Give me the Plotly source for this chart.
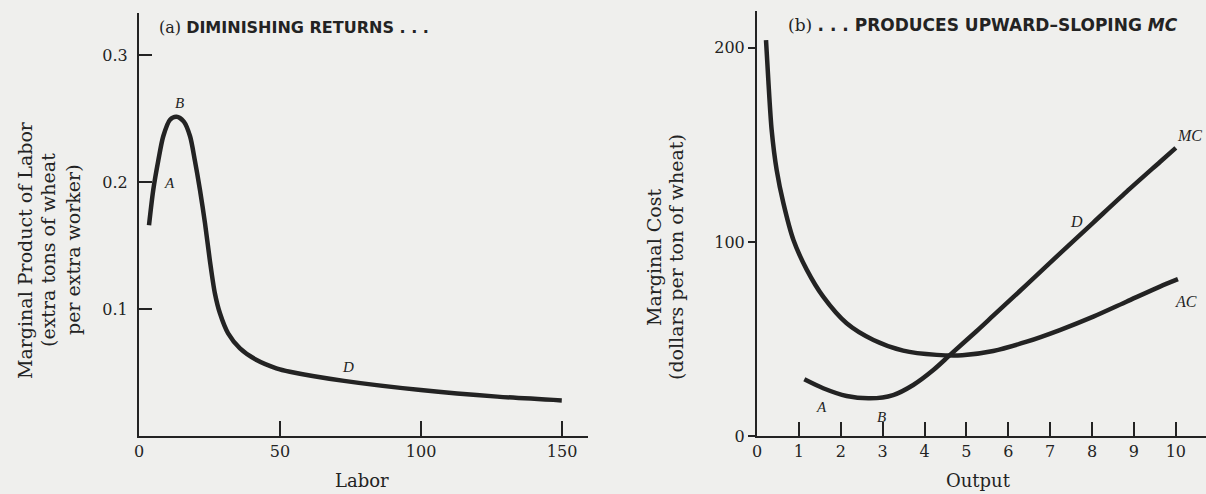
import plotly.graph_objects as go

# ---- Panel (a): marginal product of labor ----
labor_x = [3.55, 5.07, 6.85, 8.6, 11.0, 13.3, 15.9, 18.1, 19.8, 21.6, 23.4, 25.1, 26.9, 28.7, 31.6, 35.8,
           41.7, 48.7, 53.5, 72.7, 99.9, 127.0, 149.9]
mpl_y = [0.166, 0.194, 0.217, 0.236, 0.249, 0.2514, 0.2475, 0.236, 0.217, 0.194, 0.1675, 0.1386, 0.1124,
         0.0966, 0.0808, 0.069, 0.0598, 0.0533, 0.0506, 0.0434, 0.0362, 0.0310, 0.0280]

# ---- Panel (b): marginal cost and average cost ----
mc_x = [1.13, 1.58, 2.14, 2.70, 3.25, 3.73, 4.21, 4.61, 5.24, 5.64, 6.04, 6.44, 7.23, 8.03, 8.82, 9.62, 10.0]
mc_y = [29.2, 24.6, 20.6, 19.4, 21.1, 26.3, 34.0, 41.8, 54.0, 62.0, 70.0, 78.0, 94.0, 110.0, 125.8, 141.2, 148.5]
ac_x = [0.215, 0.27, 0.35, 0.47, 0.63, 0.87, 1.19, 1.58, 2.14, 2.78, 3.49, 4.29, 4.9, 5.64, 6.44, 7.23, 8.03,
        8.82, 9.62, 10.05]
ac_y = [204, 183.5, 157.7, 137, 120, 101, 85.6, 71.8, 58.1, 49.5, 44.0, 41.8, 41.6, 43.8, 48.6, 54.6, 61.5,
        69.2, 77.0, 80.8]

labor_ticks = [0, 50, 100, 150]
mpl_ticks = [0.1, 0.2, 0.3]
output_ticks = [0, 1, 2, 3, 4, 5, 6, 7, 8, 9, 10]
cost_ticks = [0, 100, 200]

INK = "#232323"
BG = "#efefed"
SERIF = "DejaVu Serif"
SANS = "DejaVu Sans"
W, H = 1206, 494

def px(x):
    return x / W

def py(y):
    return (H - y) / H

fig = go.Figure()
curve = dict(color=INK, width=4.5, shape="spline", smoothing=0.8)
fig.add_trace(go.Scatter(x=labor_x, y=mpl_y, mode="lines", line=curve,
                         xaxis="x", yaxis="y", hoverinfo="skip", showlegend=False))
fig.add_trace(go.Scatter(x=mc_x, y=mc_y, mode="lines", line=curve,
                         xaxis="x2", yaxis="y2", hoverinfo="skip", showlegend=False))
fig.add_trace(go.Scatter(x=ac_x, y=ac_y, mode="lines", line=curve,
                         xaxis="x2", yaxis="y2", hoverinfo="skip", showlegend=False))

tickfont = dict(family=SERIF, size=16, color=INK)
axis_common = dict(showgrid=False, zeroline=False, showline=True, linecolor=INK, linewidth=2,
                   tickcolor=INK, tickwidth=2, tickfont=tickfont, fixedrange=True, automargin=False)

fig.update_layout(
    width=W, height=H,
    margin=dict(l=0, r=0, t=0, b=0, pad=0),
    paper_bgcolor=BG, plot_bgcolor=BG,
    showlegend=False,
    xaxis=dict(domain=[px(139), px(588)], range=[0, 159.2], anchor="y",
               tickvals=labor_ticks, ticktext=[str(v) for v in labor_ticks],
               ticks="inside", ticklen=15, **axis_common),
    yaxis=dict(domain=[py(436), py(13)], range=[0, 0.333], anchor="x",
               tickvals=mpl_ticks, ticktext=["0.1", "0.2", "0.3"],
               ticks="inside", ticklen=13, ticklabelstandoff=6, **axis_common),
    xaxis2=dict(domain=[px(757), 1.0], range=[0, 10.72], anchor="y2",
                tickvals=output_ticks, ticktext=[str(v) for v in output_ticks],
                ticks="inside", ticklen=14, **axis_common),
    yaxis2=dict(domain=[py(436), py(11)], range=[0, 219], anchor="x2",
                tickvals=cost_ticks, ticktext=[str(v) for v in cost_ticks],
                ticks="outside", ticklen=7, **axis_common),
)

ann = []

def lab(text, x, y, xref, yref, size=15):
    ann.append(dict(text=f"<i>{text}</i>", x=x, y=y, xref=xref, yref=yref, showarrow=False,
                    xanchor="center", yanchor="middle",
                    font=dict(family="Liberation Serif", size=size, color=INK)))

# point labels panel (a)
lab("B", 14.3, 0.2625, "x", "y")
lab("A", 10.9, 0.199, "x", "y")
lab("D", 74, 0.054, "x", "y")
# point labels panel (b)
lab("MC", 10.33, 155, "x2", "y2", 16)
lab("AC", 10.25, 69.2, "x2", "y2", 16)
lab("D", 7.63, 110.5, "x2", "y2", 16)
lab("A", 1.54, 15.1, "x2", "y2")
lab("B", 2.98, 10, "x2", "y2")

# panel titles
ann.append(dict(text=f"<span style='font-family:{SERIF};font-weight:normal'>(a)</span> <b>DIMINISHING RETURNS . . .</b>",
                x=px(157), y=py(27), xref="paper", yref="paper", xanchor="left", yanchor="middle",
                showarrow=False, font=dict(family=SANS, size=16, color=INK)))
ann.append(dict(text=f"<span style='font-family:{SERIF};font-weight:normal'>(b)</span> <b>. . . PRODUCES UPWARD–SLOPING <i>MC</i></b>",
                x=px(786), y=py(25), xref="paper", yref="paper", xanchor="left", yanchor="middle",
                showarrow=False, font=dict(family=SANS, size=17, color=INK)))

# axis titles
ann.append(dict(text="Labor", x=px(362), y=py(480), xref="paper", yref="paper",
                xanchor="center", yanchor="middle",
                showarrow=False, font=dict(family=SERIF, size=18, color=INK)))
ann.append(dict(text="Output", x=px(978), y=py(480), xref="paper", yref="paper",
                xanchor="center", yanchor="middle",
                showarrow=False, font=dict(family=SERIF, size=18, color=INK)))

for text, xc in [("Marginal Product of Labor", 25), ("(extra tons of wheat", 48), ("per extra worker)", 73)]:
    ann.append(dict(text=text, x=px(xc), y=py(250), xref="paper", yref="paper", textangle=-90,
                    xanchor="center", yanchor="middle",
                    showarrow=False, font=dict(family=SERIF, size=19, color=INK)))
for text, xc in [("Marginal Cost", 654), ("(dollars per ton of wheat)", 676)]:
    ann.append(dict(text=text, x=px(xc), y=py(257), xref="paper", yref="paper", textangle=-90,
                    xanchor="center", yanchor="middle",
                    showarrow=False, font=dict(family=SERIF, size=19, color=INK)))

fig.update_layout(annotations=ann)
fig.write_html("out.html", config={"displayModeBar": False},
               post_script="document.body.style.margin='0';document.body.style.overflow='hidden';"
                           "document.body.style.background='#efefed';")
